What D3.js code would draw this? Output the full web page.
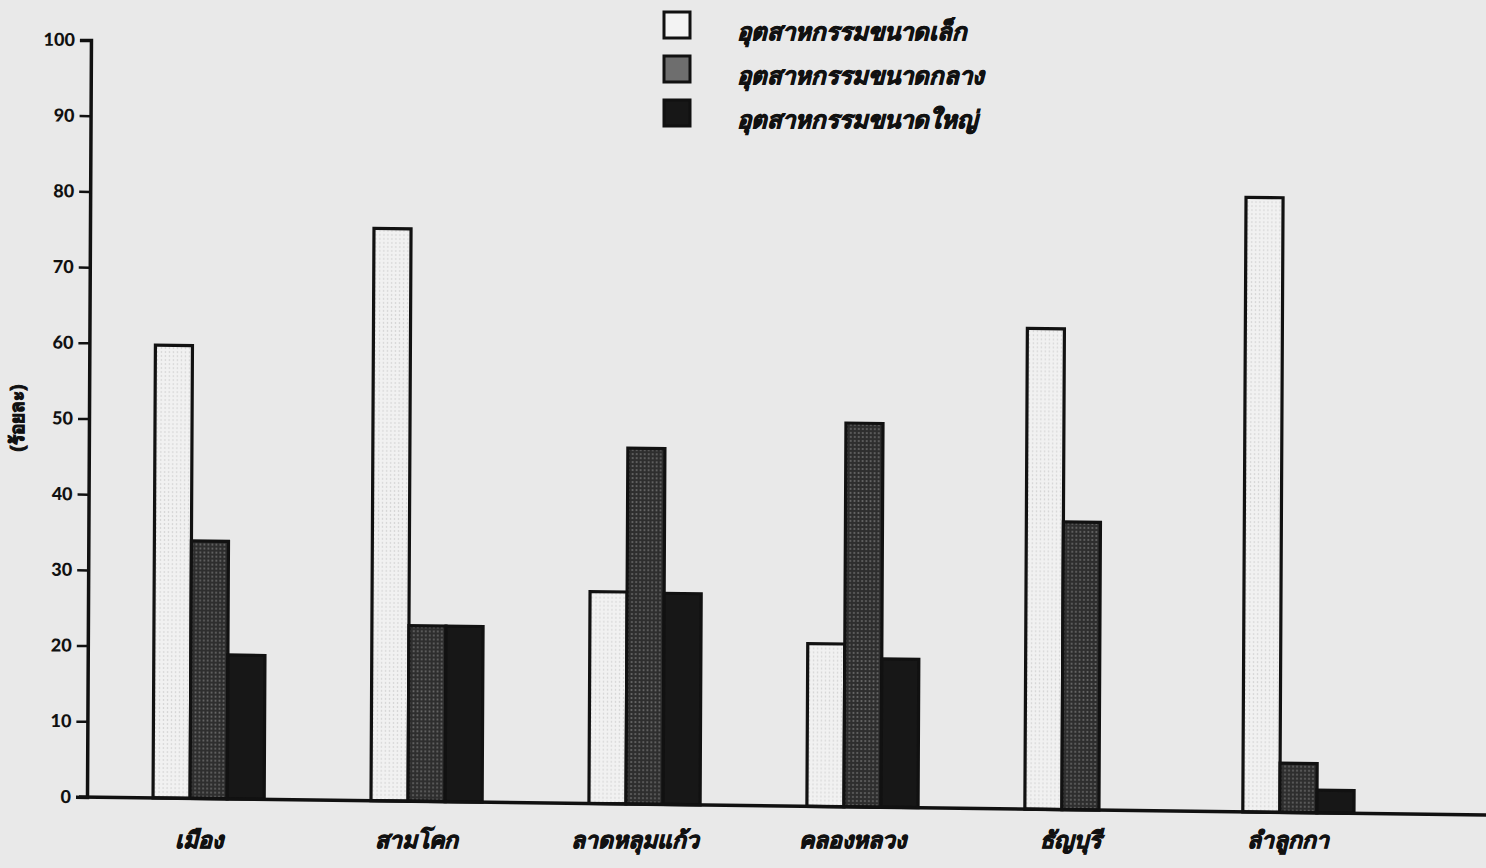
<!DOCTYPE html>
<meta charset="utf-8">
<style>
body { margin: 0; background: #e9e9e9; }
svg { display: block; }
.tick text { font-family: "Lato", "DejaVu Sans", sans-serif; font-weight: 900; font-size: 18px; fill: #111; }
.thai { font-family: "Noto Sans", "DejaVu Sans", sans-serif; font-weight: bold; font-style: italic; fill: #111; stroke: #111; stroke-width: 0.9px; }
</style>
<svg width="1486" height="868"></svg>
<script src="https://cdn.jsdelivr.net/npm/d3@7"></script>
<script>
var svg = d3.select("svg"),
    width = +svg.attr("width"),
    height = +svg.attr("height");

// data (percent)
var districts = ["เมือง", "สามโคก", "ลาดหลุมแก้ว", "คลองหลวง", "ธัญบุรี", "ลำลูกกา"];
var seriesNames = ["อุตสาหกรรมขนาดเล็ก", "อุตสาหกรรมขนาดกลาง", "อุตสาหกรรมขนาดใหญ่"];
var small  = [59.8, 75.6, 28, 21.5, 63.5, 81.2];
var medium = [34, 23.2, 47, 50.7, 38, 6.5];
var large  = [19, 23.2, 27.9, 19.6, 0, 3];
var yTicks = [0, 10, 20, 30, 40, 50, 60, 70, 80, 90, 100];

var fills = ["url(#dotsLight)", "url(#dotsDark)", "#171717"];
var values = [small, medium, large];

var x0 = 87, y0 = 797;

var defs = svg.append("defs");
var pl = defs.append("pattern").attr("id", "dotsLight")
    .attr("width", 4).attr("height", 4).attr("patternUnits", "userSpaceOnUse");
pl.append("rect").attr("width", 4).attr("height", 4).attr("fill", "#f1f1f1");
pl.append("circle").attr("cx", 2).attr("cy", 2).attr("r", 0.7).attr("fill", "#c8c8c8");
var pd = defs.append("pattern").attr("id", "dotsDark")
    .attr("width", 4).attr("height", 4).attr("patternUnits", "userSpaceOnUse");
pd.append("rect").attr("width", 4).attr("height", 4).attr("fill", "#2e2e2e");
pd.append("circle").attr("cx", 2).attr("cy", 2).attr("r", 1).attr("fill", "#6a6a6a");

var x = d3.scaleBand()
    .domain(districts)
    .range([0, 1420 - x0])
    .paddingInner(0.49)
    .paddingOuter(0.303);

var x1 = d3.scaleBand()
    .domain(d3.range(3))
    .range([0, x.bandwidth()]);

var y = d3.scaleLinear()
    .domain([0, 100])
    .range([0, -(y0 - 40)]);

// the scan sits a little crooked: baseline slopes down, y axis leans a bit
var plot = svg.append("g")
    .attr("transform", "translate(" + x0 + "," + y0 + ") skewY(0.74) skewX(-0.3)");

var groups = plot.selectAll("g.grp")
    .data(districts)
  .enter().append("g")
    .attr("class", "grp")
    .attr("transform", function(d) { return "translate(" + x(d) + ",0)"; });

groups.selectAll("rect")
    .data(function(d, i) { return values.map(function(v, k) { return {k: k, v: v[i]}; }); })
  .enter().append("rect")
    .filter(function(d) { return d.v > 0; })
    .attr("x", function(d) { return x1(d.k); })
    .attr("y", function(d) { return y(d.v); })
    .attr("width", x1.bandwidth())
    .attr("height", function(d) { return -y(d.v); })
    .attr("fill", function(d) { return fills[d.k]; })
    .attr("stroke", "#111")
    .attr("stroke-width", 3.2);

var yAxis = plot.append("g")
    .call(d3.axisLeft(y).tickValues(yTicks).tickSize(11).tickPadding(5));
yAxis.select(".domain").attr("stroke", "#111").attr("stroke-width", 3.5);
yAxis.selectAll(".tick line").attr("stroke", "#111").attr("stroke-width", 2.5);

plot.append("line")
    .attr("x1", -8).attr("x2", width)
    .attr("y1", 0).attr("y2", 0)
    .attr("stroke", "#111")
    .attr("stroke-width", 3.5);

// category labels
svg.selectAll("text.cat")
    .data(districts)
  .enter().append("text")
    .attr("class", "thai")
    .attr("x", function(d) { return x0 + x(d) + x.bandwidth() / 2 - 10; })
    .attr("y", 848)
    .attr("text-anchor", "middle")
    .style("font-size", "23px")
    .text(function(d) { return d; });

// y label
svg.append("text")
    .attr("class", "thai")
    .attr("transform", "translate(24,418) rotate(-90)")
    .attr("text-anchor", "middle")
    .style("font-size", "19px")
    .style("font-style", "normal")
    .text("(ร้อยละ)");

// legend
var legend = svg.append("g").attr("transform", "translate(664,12)");
var li = legend.selectAll("g")
    .data(seriesNames)
  .enter().append("g")
    .attr("transform", function(d, i) { return "translate(0," + (i * 44) + ")"; });
li.append("rect")
    .attr("width", 26).attr("height", 26)
    .attr("fill", function(d, i) { return i === 1 ? "#6e6e6e" : (i === 0 ? "#f3f3f3" : "#171717"); })
    .attr("stroke", "#111")
    .attr("stroke-width", 3);
li.append("text")
    .attr("class", "thai")
    .attr("x", 73)
    .attr("y", 28)
    .style("font-size", "24px")
    .text(function(d) { return d; });
</script>
